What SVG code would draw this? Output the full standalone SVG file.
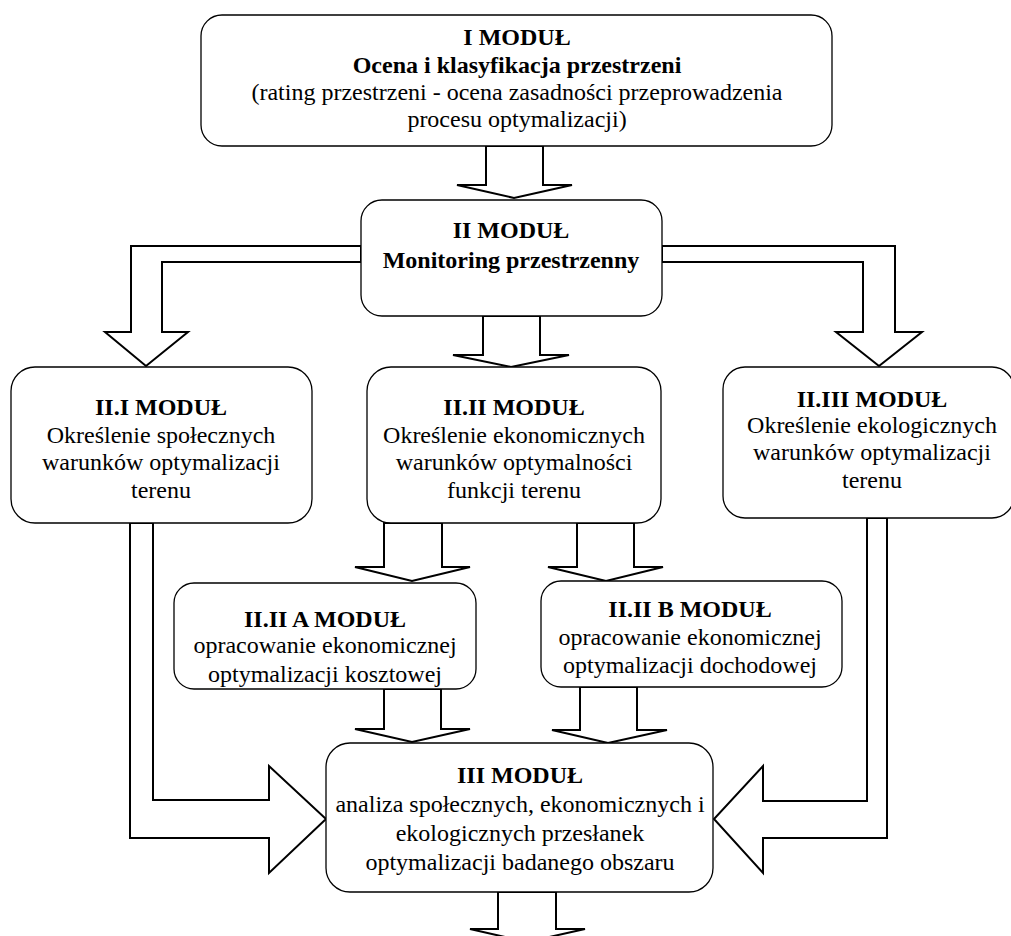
<svg xmlns="http://www.w3.org/2000/svg" width="1011" height="936" viewBox="0 0 1011 936">
  <style>
    .box { fill: #fff; stroke: #000; stroke-width: 1.3; }
    .arrow { fill: #fff; stroke: #000; stroke-width: 2; stroke-linejoin: miter; }
    text { font-family: "Liberation Serif", "Times New Roman", serif; font-size: 24px; fill: #000; text-anchor: middle; }
    .b { font-weight: bold; }
  </style>
  <rect width="1011" height="936" fill="#fff"/>

  <!-- block arrows between modules -->
  <g id="connectors">
    <polygon class="arrow" points="486,146 543,146 543,185 572,185 514,198 457,185 486,185"/>
    <polygon class="arrow" points="361,246 131,246 131,332 105,332 146,366 188,332 162,332 162,262 361,262"/>
    <polygon class="arrow" points="662,246 895,246 895,332 922,332 879,366 836,332 863,332 863,262 662,262"/>
    <polygon class="arrow" points="483,316 540,316 540,355 569,355 511,367 453,355 483,355"/>
    <polygon class="arrow" points="384,523 442,523 442,567 470,567 412,581 355,567 384,567"/>
    <polygon class="arrow" points="577,523 634,523 634,567 663,567 606,581 548,567 577,567"/>
    <polygon class="arrow" points="130,523 130,838 269,838 269,873 326,819 269,766 269,800 153,800 153,523"/>
    <polygon class="arrow" points="887,518 887,838 763,838 763,873 714,819 763,766 763,801 867,801 867,518"/>
    <polygon class="arrow" points="384,689 441,689 441,729 470,729 412,742 355,729 384,729"/>
    <polygon class="arrow" points="580,687 637,687 637,730 667,730 608,743 552,730 580,730"/>
    <polygon class="arrow" points="498,892 556,892 556,929 585,929 527,942 470,929 498,929"/>
  </g>

  <g id="mod-1">
    <rect class="box" x="201" y="15" width="631" height="131" rx="21"/>
    <text x="517" y="45" class="b">I MODUŁ</text>
    <text x="517" y="73" class="b">Ocena i klasyfikacja przestrzeni</text>
    <text x="517" y="100">(rating przestrzeni - ocena zasadności przeprowadzenia</text>
    <text x="517" y="127">procesu optymalizacji)</text>
  </g>

  <g id="mod-2">
    <rect class="box" x="361" y="200" width="301" height="116" rx="21"/>
    <text x="511" y="238" class="b">II MODUŁ</text>
    <text x="511" y="268" class="b">Monitoring przestrzenny</text>
  </g>

  <g id="mod-2-1">
    <rect class="box" x="11" y="367" width="301" height="156" rx="24"/>
    <text x="161" y="415" class="b">II.I MODUŁ</text>
    <text x="161" y="443">Określenie społecznych</text>
    <text x="161" y="470">warunków optymalizacji</text>
    <text x="161" y="498">terenu</text>
  </g>

  <g id="mod-2-2">
    <rect class="box" x="367" y="367" width="294" height="156" rx="24"/>
    <text x="514" y="415" class="b">II.II MODUŁ</text>
    <text x="514" y="443">Określenie ekonomicznych</text>
    <text x="514" y="470">warunków optymalności</text>
    <text x="514" y="498">funkcji terenu</text>
  </g>

  <g id="mod-2-3">
    <rect class="box" x="723" y="367" width="291" height="151" rx="22"/>
    <text x="872" y="407" class="b">II.III MODUŁ</text>
    <text x="872" y="433">Określenie ekologicznych</text>
    <text x="872" y="460">warunków optymalizacji</text>
    <text x="872" y="488">terenu</text>
  </g>

  <g id="mod-2-2a">
    <rect class="box" x="174" y="583" width="302" height="106" rx="20"/>
    <text x="325" y="627" class="b">II.II A MODUŁ</text>
    <text x="325" y="653">opracowanie ekonomicznej</text>
    <text x="325" y="682">optymalizacji kosztowej</text>
  </g>

  <g id="mod-2-2b">
    <rect class="box" x="541" y="581" width="301" height="106" rx="20"/>
    <text x="690" y="617" class="b">II.II B MODUŁ</text>
    <text x="690" y="645">opracowanie ekonomicznej</text>
    <text x="690" y="673">optymalizacji dochodowej</text>
  </g>

  <g id="mod-3">
    <rect class="box" x="326" y="743" width="387" height="149" rx="24"/>
    <text x="520" y="783" class="b">III MODUŁ</text>
    <text x="520" y="812">analiza społecznych, ekonomicznych i</text>
    <text x="520" y="841">ekologicznych przesłanek</text>
    <text x="520" y="870">optymalizacji badanego obszaru</text>
  </g>
</svg>
